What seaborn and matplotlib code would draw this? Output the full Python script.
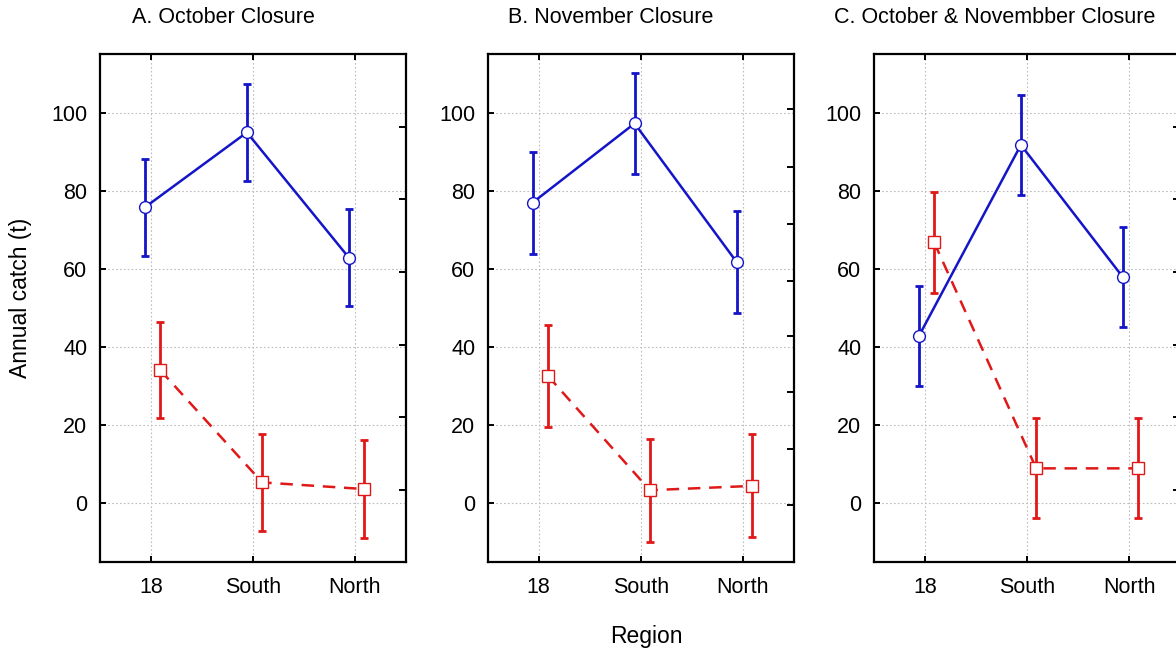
import matplotlib
matplotlib.use("Agg")
import matplotlib.pyplot as plt
import seaborn as sns
import numpy as np
import pandas as pd

# ---- data ----
regions = ["18", "South", "North"]
titles = ["A. October Closure", "B. November Closure", "C. October & Novembber Closure"]

a_blue = [75.8, 95.0, 62.9]
a_blue_err = [12.5, 12.5, 12.4]
a_red = [34.1, 5.3, 3.6]
a_red_err = [12.4, 12.4, 12.5]

b_blue = [77.0, 97.3, 61.8]
b_blue_err = [13.1, 13.0, 13.0]
b_red = [32.6, 3.3, 4.4]
b_red_err = [13.1, 13.2, 13.2]

c_blue = [42.8, 91.8, 57.9]
c_blue_err = [12.9, 12.9, 12.8]
c_red = [66.8, 8.9, 8.9]
c_red_err = [12.9, 12.8, 12.8]

y_ticks = [0, 20, 40, 60, 80, 100]

# ---- style ----
sns.set_style("white")
plt.rcParams["font.family"] = ["Liberation Sans", "DejaVu Sans"]
plt.rcParams["text.color"] = "black"
plt.rcParams["axes.labelcolor"] = "black"

BLUE = "#1414c8"
RED = "#e01818"
W, H = 1176, 656
fig = plt.figure(figsize=(W / 100, H / 100), dpi=100)

ax_lefts = [100, 487.7, 874]
ax_w = 306
ax_top, ax_bot = 54, 562
right_ticks = [
    [3.3, 22.1, 40.5, 59.2, 77.9, 96.4],
    [-0.6, 13.8, 28.4, 42.9, 56.9, 71.6, 86.1, 101.1],
    [3.3, 22.1, 40.5, 59.2, 77.9, 96.4],
]
panels = [
    (a_blue, a_blue_err, a_red, a_red_err),
    (b_blue, b_blue_err, b_red, b_red_err),
    (c_blue, c_blue_err, c_red, c_red_err),
]
title_x = [0.405, 0.402, 0.395]

for i, (bl, ble, rd, rde) in enumerate(panels):
    ax = fig.add_axes([ax_lefts[i] / W, 1 - ax_bot / H, ax_w / W, (ax_bot - ax_top) / H])
    idx = np.arange(len(regions))
    xb = idx - 0.06
    xr = idx + 0.09
    df_b = pd.DataFrame({"x": xb, "y": bl})
    df_r = pd.DataFrame({"x": xr, "y": rd})

    ax.errorbar(xb, bl, yerr=ble, fmt="none", ecolor=BLUE, elinewidth=2,
                capsize=3.2, capthick=2, zorder=2)
    ax.errorbar(xr, rd, yerr=rde, fmt="none", ecolor=RED, elinewidth=2,
                capsize=3.2, capthick=2, zorder=2)
    sns.lineplot(data=df_b, x="x", y="y", ax=ax, color=BLUE, linewidth=1.8,
                 marker="o", markersize=8.5, markerfacecolor="white",
                 markeredgecolor=BLUE, markeredgewidth=1.0, zorder=3, sort=False)
    sns.lineplot(data=df_r, x="x", y="y", ax=ax, color=RED, linewidth=1.8,
                 linestyle=(0, (5, 3.5)), marker="s", markersize=9,
                 markerfacecolor="white", markeredgecolor=RED,
                 markeredgewidth=1.0, zorder=3, sort=False)

    ax.set_xlim(-0.5, 2.5)
    ax.set_ylim(-15.1, 115.1)
    ax.set_xticks(idx)
    ax.set_xticklabels(regions)
    ax.set_yticks(y_ticks)
    ax.set_xlabel("")
    ax.set_ylabel("")
    ax.grid(True, color="#bdbdbd", linestyle=(0, (1.5, 2)), linewidth=0.8)
    ax.set_axisbelow(True)
    for s in ax.spines.values():
        s.set_color("black")
        s.set_linewidth(1.6)
    ax.tick_params(axis="both", direction="in", length=4, width=1.4,
                   labelsize=15.5, colors="black", pad=9)
    ax.tick_params(axis="x", top=True, bottom=True, pad=11)
    ax.tick_params(axis="y", left=True, right=False)
    ax.set_title(titles[i], x=title_x[i], pad=22, fontsize=15.5, color="black")

    ax2 = ax.twinx()
    ax2.set_ylim(ax.get_ylim())
    ax2.set_yticks(right_ticks[i])
    ax2.set_yticklabels([])
    ax2.tick_params(axis="y", direction="in", length=5, width=1.4, colors="black")
    for s in ax2.spines.values():
        s.set_visible(False)
    ax2.grid(False)

fig.text(21 / W, 1 - 298 / H, "Annual catch (t)", rotation=90, ha="center",
         va="center", fontsize=16.5, color="black")
fig.text(646 / W, 1 - 637 / H, "Region", ha="center", va="center",
         fontsize=16.5, color="black")

fig.savefig("out.png", dpi=100)
